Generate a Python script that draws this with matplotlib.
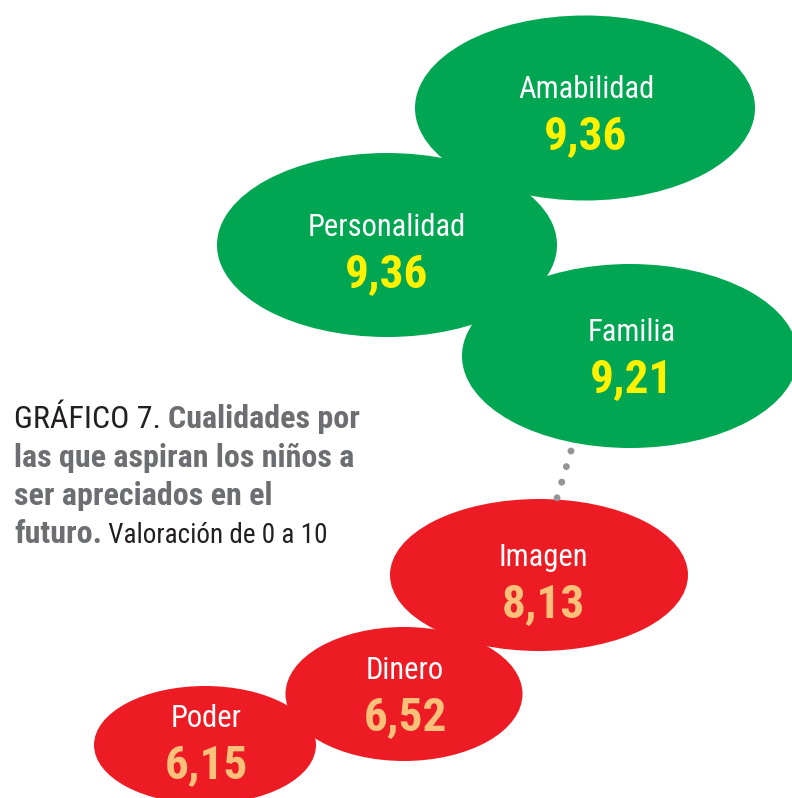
import matplotlib.pyplot as plt
from matplotlib.patches import Ellipse

# data
cualidades = ["Amabilidad", "Personalidad", "Familia", "Imagen", "Dinero", "Poder"]
valores = [9.36, 9.36, 9.21, 8.13, 6.52, 6.15]
grupo = ["alto", "alto", "alto", "bajo", "bajo", "bajo"]

# layout in pixels (y grows downward)
centros = [(585, 108), (387, 245), (630, 356), (539, 575), (404, 694), (205, 745)]
tamanos = [(340, 185), (340, 184), (336, 184), (298, 152), (237, 134), (222, 118)]
texto_xy = [(586, 98), (387, 236), (632, 341), (543, 566), (405, 679), (206, 727)]

fill = {"alto": "#00a651", "bajo": "#ed1c24"}
num_color = {"alto": "#fff200", "bajo": "#fbc07a"}

FONT = ["Roboto Condensed", "DejaVu Sans"]
W, H = 792, 798

fig = plt.figure(figsize=(W / 100, H / 100), dpi=100)
ax = fig.add_axes([0, 0, 1, 1])
ax.set_xlim(0, W)
ax.set_ylim(H, 0)
ax.axis("off")

for g, (cx, cy), (w, h) in zip(grupo, centros, tamanos):
    ax.add_patch(Ellipse((cx, cy), w, h, facecolor=fill[g], edgecolor="none", zorder=1))

for name, val, g, (tx, ty) in zip(cualidades, valores, grupo, texto_xy):
    ax.text(tx, ty, name, color="white", fontsize=22, family=FONT,
            ha="center", va="baseline", zorder=3)
    ax.text(tx, ty + 51, f"{val:.2f}".replace(".", ","), color=num_color[g],
            fontsize=34, fontweight="bold", family=FONT,
            ha="center", va="baseline", zorder=3)

# grey dotted connector between the two groups
ax.plot([571, 557], [451, 498], color="#939598", lw=5, linestyle=(0, (0.01, 2.33)),
        dash_capstyle="round", zorder=2)

# title block, mixed styles per line: (text, colour, weight, size)
dark = "#231f20"
grey = "#6d6e71"
title_lines = [
    [("GRÁFICO 7. ", dark, "normal", 23), ("Cualidades por", grey, "bold", 23)],
    [("las que aspiran los niños a", grey, "bold", 23)],
    [("ser apreciados en el", grey, "bold", 23)],
    [("futuro.", grey, "bold", 23), (" Valoración de 0 a 10", dark, "normal", 19.5)],
]
line_y = [428, 467, 505, 543]

fig.canvas.draw()
renderer = fig.canvas.get_renderer()
inv = ax.transData.inverted()
for runs, y in zip(title_lines, line_y):
    x = 14
    for txt, col, wt, size in runs:
        t = ax.text(x, y, txt, color=col, fontsize=size, fontweight=wt, family=FONT,
                    ha="left", va="baseline")
        bb = t.get_window_extent(renderer=renderer)
        x += inv.transform((bb.x1, 0))[0] - inv.transform((bb.x0, 0))[0]

fig.savefig("out.png", dpi=100)
